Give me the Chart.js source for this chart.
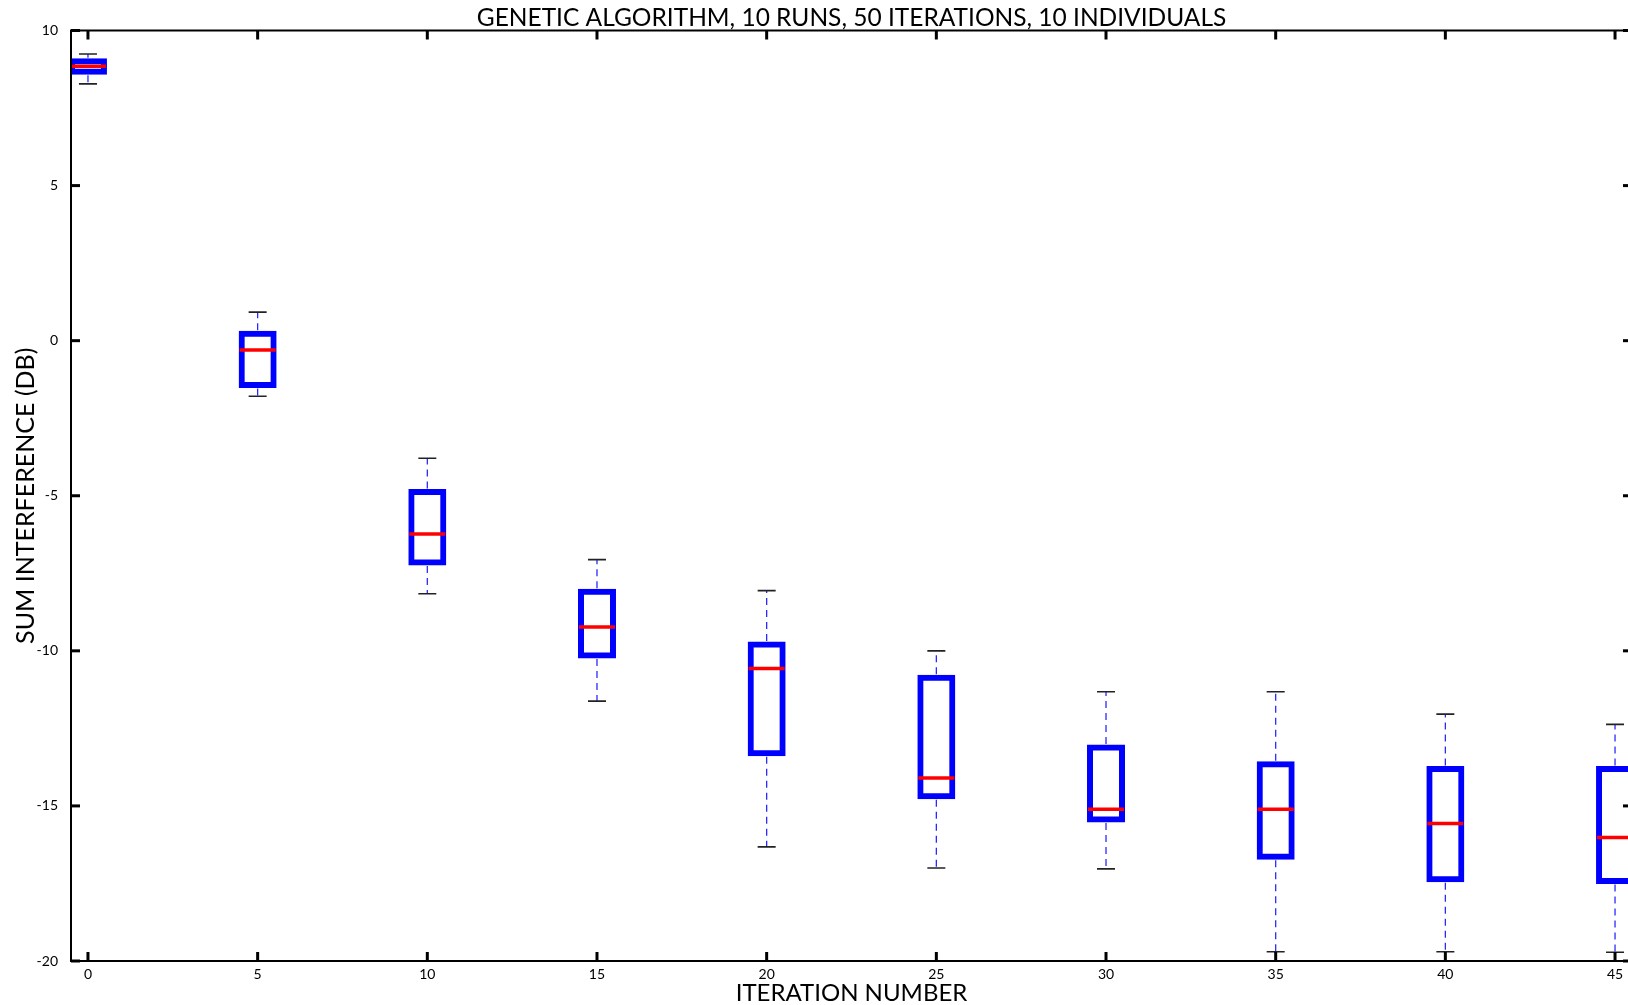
<!DOCTYPE html>
<html>
<head>
<meta charset="utf-8">
<script src="https://cdn.jsdelivr.net/npm/chart.js@4.4.1/dist/chart.umd.min.js"></script>
<style>
    html, body { margin: 0; padding: 0; background: #fff; overflow: hidden; }
    #wrap { width: 1628px; height: 1005px; overflow: hidden; }
</style>
</head>
<body>
<div id="wrap"><canvas id="gaChart" width="1660" height="1005"></canvas></div>
<script>
// Iteration numbers where a box was drawn
const positions = [0, 5, 10, 15, 20, 25, 30, 35, 40, 45];

// Box statistics (dB)
const whiskerHigh = [9.24, 0.92, -3.79, -7.06, -8.06, -10.0, -11.32, -11.32, -12.04, -12.37];
const q3 = [9.06, 0.27, -4.83, -8.05, -9.75, -10.82, -13.07, -13.61, -13.76, -13.76];
const medians = [8.85, -0.30, -6.23, -9.23, -10.57, -14.10, -15.11, -15.11, -15.57, -16.02];
const q1 = [8.62, -1.48, -7.20, -10.20, -13.35, -14.74, -15.49, -16.69, -17.41, -17.47];
const whiskerLow = [8.28, -1.79, -8.16, -11.62, -16.32, -17.00, -17.03, -19.70, -19.70, -19.72];

// Tick labels
const xTicks = [0, 5, 10, 15, 20, 25, 30, 35, 40, 45];
const yTicks = [-20, -15, -10, -5, 0, 5, 10];

const FONT = 'Lato, "Open Sans", sans-serif';

function line(ctx, x1, y1, x2, y2) {
    ctx.beginPath();
    ctx.moveTo(x1, y1);
    ctx.lineTo(x2, y2);
    ctx.stroke();
}

// whiskers, caps and medians on top of the floating bars
const boxExtras = {
    id: 'boxExtras',
    afterDatasetsDraw(chart) {
        const { ctx, chartArea: a, scales: { x, y } } = chart;
        ctx.save();
        ctx.beginPath();
        ctx.rect(a.left, a.top, a.right - a.left, a.bottom - a.top);
        ctx.clip();
        positions.forEach((p, i) => {
            const px = x.getPixelForValue(p);
            const yHi = y.getPixelForValue(whiskerHigh[i]);
            const yLo = y.getPixelForValue(whiskerLow[i]);

            ctx.setLineDash([7, 5]);
            ctx.strokeStyle = '#2a2aff';
            ctx.lineWidth = 1.3;
            line(ctx, px, y.getPixelForValue(q3[i]) - 2, px, yHi);
            line(ctx, px, y.getPixelForValue(q1[i]) + 2, px, yLo);

            ctx.setLineDash([]);
            ctx.strokeStyle = '#222';
            ctx.lineWidth = 1.6;
            line(ctx, px - 9, yHi, px + 9, yHi);
            line(ctx, px - 9, yLo, px + 9, yLo);

            const ym = y.getPixelForValue(medians[i]);
            ctx.strokeStyle = '#ff0000';
            ctx.lineWidth = 3.5;
            line(ctx, px - 18, ym, px + 18, ym);
        });
        ctx.restore();
    },
    afterDraw(chart) {
        const { ctx, chartArea: a, scales: { x, y } } = chart;
        ctx.save();
        ctx.strokeStyle = '#000';
        ctx.lineWidth = 2;
        ctx.strokeRect(a.left, a.top, a.right - a.left, a.bottom - a.top);

        // inward tick marks on all four sides
        ctx.lineWidth = 3;
        x.ticks.forEach((t) => {
            const px = x.getPixelForValue(t.value);
            line(ctx, px, a.bottom, px, a.bottom - 9);
            line(ctx, px, a.top, px, a.top + 9);
        });
        y.ticks.forEach((t) => {
            const py = y.getPixelForValue(t.value);
            line(ctx, a.left, py, a.left + 9, py);
            line(ctx, a.right, py, a.right - 9, py);
        });
        ctx.restore();
    }
};

const ctx = document.getElementById('gaChart').getContext('2d');
new Chart(ctx, {
    type: 'bar',
    data: {
        datasets: [{
            data: positions.map((p, i) => ({ x: p, y: [q1[i], q3[i]] })),
            backgroundColor: 'rgba(0, 0, 0, 0)',
            borderColor: '#0000ff',
            borderWidth: 3,
            borderSkipped: false,
            inflateAmount: 1.5,
            barThickness: 35,
        }]
    },
    options: {
        responsive: false,
        devicePixelRatio: 1,
        animation: false,
        layout: { padding: { left: 0, top: 0, right: 28, bottom: 0 } },
        plugins: {
            legend: { display: false },
            tooltip: { enabled: false },
            title: {
                display: true,
                fullSize: false,
                text: 'GENETIC ALGORITHM, 10 RUNS, 50 ITERATIONS, 10 INDIVIDUALS',
                color: '#000',
                font: { family: FONT, size: 24.5, weight: 'normal', lineHeight: 1 },
                padding: { top: 6, bottom: 0 },
            },
        },
        scales: {
            x: {
                type: 'linear',
                min: -0.5,
                max: 45.5,
                offset: false,
                grid: { display: false, offset: false },
                border: { display: false },
                afterBuildTicks: (scale) => { scale.ticks = xTicks.map((v) => ({ value: v })); },
                afterFit: (scale) => { scale.height = 44; },
                ticks: {
                    color: '#000',
                    padding: -3,
                    maxRotation: 0,
                    font: { family: FONT, size: 14 },
                },
                title: {
                    display: true,
                    text: 'ITERATION NUMBER',
                    color: '#000',
                    font: { family: FONT, size: 24, lineHeight: 1 },
                    padding: { top: 0, bottom: 0 },
                },
            },
            y: {
                min: -20,
                max: 10,
                grid: { display: false },
                border: { display: false },
                afterBuildTicks: (scale) => { scale.ticks = yTicks.map((v) => ({ value: v })); },
                afterFit: (scale) => { scale.width = 71; },
                ticks: {
                    color: '#000',
                    padding: 5,
                    font: { family: FONT, size: 14 },
                },
                title: {
                    display: true,
                    text: 'SUM INTERFERENCE (DB)',
                    color: '#000',
                    font: { family: FONT, size: 25, lineHeight: 1 },
                    padding: { top: 13.5, bottom: 0 },
                },
            },
        },
    },
    plugins: [boxExtras],
});
</script>
</body>
</html>
